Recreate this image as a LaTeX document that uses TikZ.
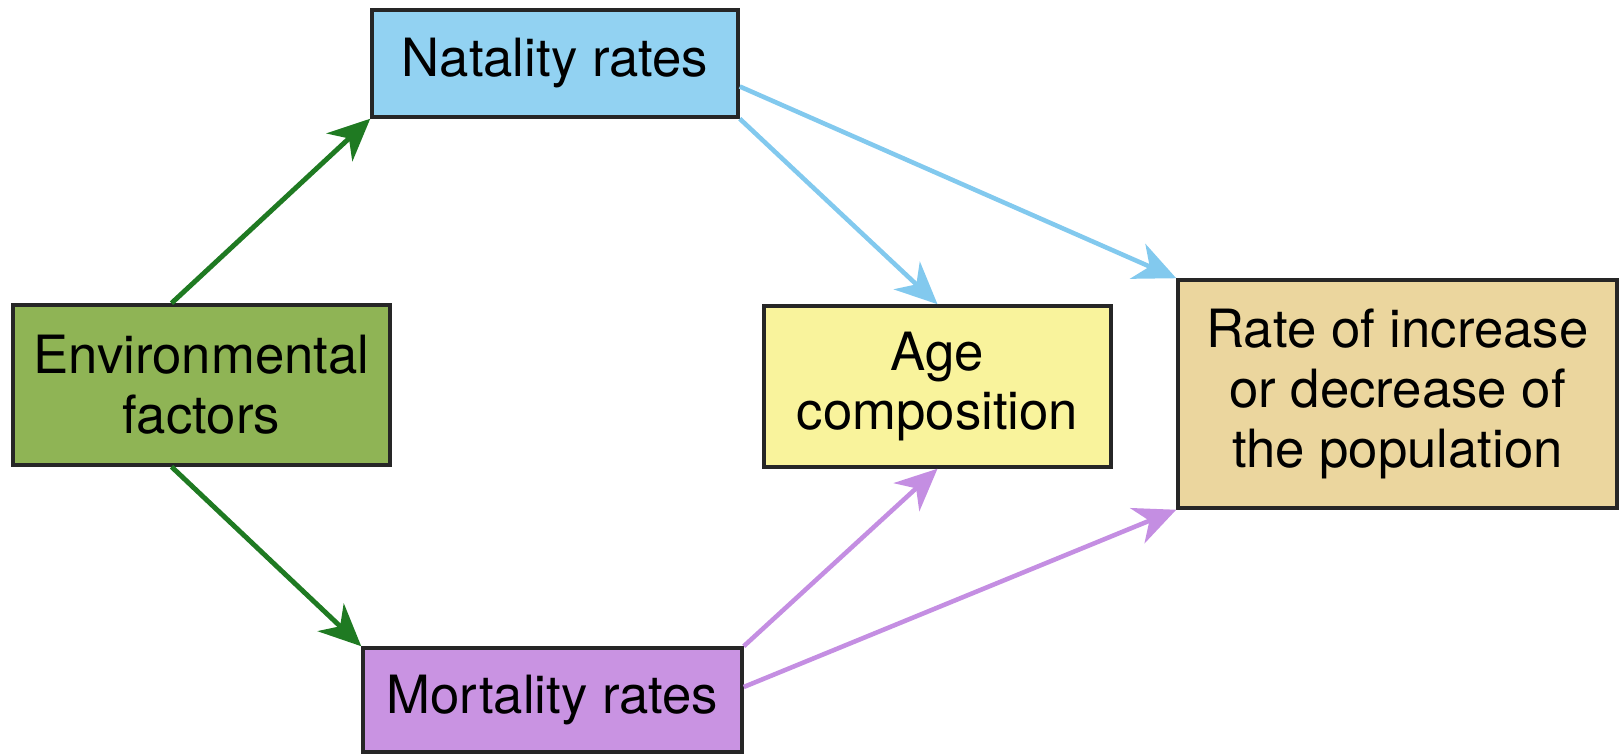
\documentclass[tikz,border=0pt]{standalone}
\usepackage{fontspec}
\setmainfont{TeX Gyre Heros}
\usetikzlibrary{arrows.meta, positioning}
\definecolor{factorGreen}{HTML}{8FB455}
\definecolor{natalBlue}{HTML}{92D2F2}
\definecolor{ageYellow}{HTML}{F9F39C}
\definecolor{rateTan}{HTML}{EBD69E}
\definecolor{mortPurple}{HTML}{C993E2}
\definecolor{arrGreen}{HTML}{1F7A22}
\definecolor{arrBlue}{HTML}{82C9EE}
\definecolor{arrPurple}{HTML}{C48EE2}

\begin{document}
\begin{tikzpicture}[
  font=\fontsize{15}{17}\selectfont,
  box/.style={draw=black!85, line width=1pt, align=center, inner sep=2pt},
  g/.style={-{Stealth[length=4.2mm, width=3.8mm, inset=1.3mm]}, line width=1.4pt, draw=arrGreen},
  b/.style={-{Stealth[length=4.2mm, width=3.8mm, inset=1.3mm]}, line width=1.3pt, draw=arrBlue},
  p/.style={-{Stealth[length=4.2mm, width=3.8mm, inset=1.3mm]}, line width=1.3pt, draw=arrPurple}
]
\useasboundingbox (0,0) rectangle (16.21,7.54);
\node[box, fill=factorGreen, minimum width=3.77cm, minimum height=1.60cm] (env) at (2.015,3.69) {Environmental\\factors};
\node[box, fill=natalBlue, minimum width=3.66cm, minimum height=1.07cm] (natal) at (5.55,6.905) {Natality rates};
\node[box, fill=mortPurple, minimum width=3.79cm, minimum height=1.04cm] (mort) at (5.525,0.54) {Mortality rates};
\node[box, fill=ageYellow, minimum width=3.47cm, minimum height=1.61cm] (age) at (9.375,3.675) {Age\\composition};
\node[box, fill=rateTan, minimum width=4.39cm, minimum height=2.28cm] (rate) at (13.975,3.60) {Rate of increase\\or decrease of\\the population};

\draw[g] ([xshift=-3mm]env.north) -- (natal.south west);
\draw[g] ([xshift=-3mm]env.south) -- (mort.north west);
\draw[b] (natal.south east) -- (age.north);
\draw[b] ([yshift=-2.3mm]natal.east) -- (rate.north west);
\draw[p] (mort.north east) -- (age.south);
\draw[p] ([yshift=1.3mm]mort.east) -- (rate.south west);
\end{tikzpicture}
\end{document}
